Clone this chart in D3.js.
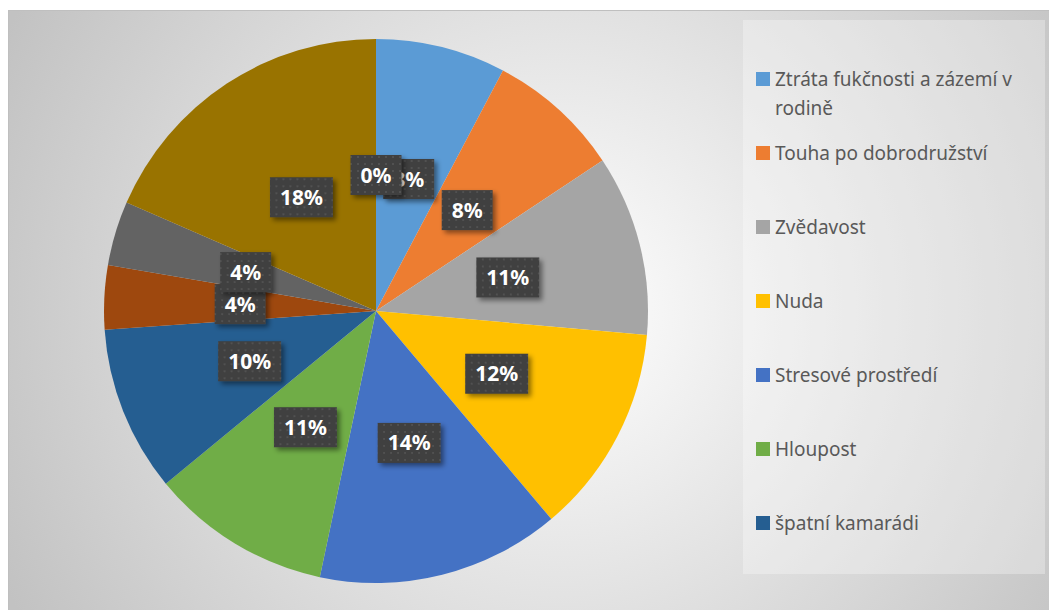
<!DOCTYPE html>
<html>
<head>
    <meta charset="utf-8">
    <script src="https://d3js.org/d3.v7.min.js"></script>
    <style>
        body { margin: 0; background: #fff; }
        .legend text {
            font-family: "Noto Sans", sans-serif;
            font-size: 19px;
            fill: #595959;
        }
        .label text {
            font-family: "Noto Sans", sans-serif;
            font-size: 21px;
            font-weight: bold;
            fill: #fff;
        }
    </style>
</head>
<body>
    <div id="chart"></div>

    <script>
        // Categories (only the first 7 fit in the legend box)
        const categories = [
            "Ztráta fukčnosti a zázemí v rodině",
            "Touha po dobrodružství",
            "Zvědavost",
            "Nuda",
            "Stresové prostředí",
            "Hloupost",
            "špatní kamarádi",
            "Kategorie 8",
            "Kategorie 9",
            "Kategorie 10",
            "Kategorie 11"
        ];
        // Shares (percent)
        const values = [7.7, 7.9, 10.7, 12.4, 14.4, 10.7, 9.8, 3.8, 3.8, 18.4, 0];
        const colors = [
            "#5B9BD5", "#ED7D31", "#A5A5A5", "#FFC000", "#4472C4", "#70AD47",
            "#255E91", "#9E480E", "#636363", "#997300", "#264478"
        ];

        const width = 1049, height = 610;
        const cx = 376, cy = 311, radius = 272;
        const legendBox = { x: 743, y: 20, w: 302, h: 554 };

        const svg = d3.select("#chart")
            .append("svg")
            .attr("width", width)
            .attr("height", height);

        const defs = svg.append("defs");

        // background gradient
        const bg = defs.append("radialGradient")
            .attr("id", "bg")
            .attr("gradientUnits", "userSpaceOnUse")
            .attr("cx", 560).attr("cy", 310).attr("r", 620);
        bg.append("stop").attr("offset", 0).attr("stop-color", "#ffffff");
        bg.append("stop").attr("offset", 1).attr("stop-color", "#c2c2c2");

        // dotted pattern for data labels
        const pat = defs.append("pattern")
            .attr("id", "dots")
            .attr("patternUnits", "userSpaceOnUse")
            .attr("width", 7).attr("height", 7);
        pat.append("rect").attr("width", 7).attr("height", 7).attr("fill", "#3f3f3f");
        pat.append("rect").attr("x", 2).attr("y", 2).attr("width", 2).attr("height", 2).attr("fill", "#515151");

        const shadow = defs.append("filter")
            .attr("id", "shadow")
            .attr("x", "-30%").attr("y", "-30%")
            .attr("width", "160%").attr("height", "160%");
        shadow.append("feDropShadow")
            .attr("dx", 3).attr("dy", 3)
            .attr("stdDeviation", 2.5)
            .attr("flood-color", "#000")
            .attr("flood-opacity", 0.45);

        // chart area
        svg.append("rect")
            .attr("x", 8.5).attr("y", 10.5)
            .attr("width", width - 8).attr("height", height - 10)
            .attr("fill", "url(#bg)")
            .attr("stroke", "#bfbfbf");

        // legend box
        svg.append("rect")
            .attr("x", legendBox.x).attr("y", legendBox.y)
            .attr("width", legendBox.w).attr("height", legendBox.h)
            .attr("fill", "#ffffff")
            .attr("opacity", 0.3);

        // pie
        const pie = d3.pie().sort(null).value(d => d.value);
        const data = categories.map((c, i) => ({ name: c, value: values[i], color: colors[i] }));
        const arcs = pie(data);
        const total = d3.sum(values);

        const arc = d3.arc().innerRadius(0).outerRadius(radius);
        const labelArc = d3.arc().innerRadius(radius * 0.5).outerRadius(radius * 0.5);

        const g = svg.append("g").attr("transform", `translate(${cx},${cy})`);

        g.selectAll("path")
            .data(arcs.filter(d => d.value > 0))
            .enter()
            .append("path")
            .attr("d", arc)
            .attr("fill", d => d.data.color);

        // data labels
        const label = g.selectAll(".label")
            .data(arcs)
            .enter()
            .append("g")
            .attr("class", "label")
            .attr("transform", d => `translate(${labelArc.centroid(d)})`);

        label.append("rect").attr("fill", "url(#dots)").attr("filter", "url(#shadow)");
        label.append("text")
            .attr("text-anchor", "middle")
            .attr("dy", "0.36em")
            .text(d => Math.round(d.value / total * 100) + "%");
        label.each(function () {
            const t = d3.select(this).select("text").node().getComputedTextLength();
            const w = t + 20, h = 40;
            d3.select(this).select("rect")
                .attr("x", -w / 2).attr("y", -h / 2)
                .attr("width", w).attr("height", h);
        });

        // legend - items that do not fit in the box are left out, like the original
        const legend = svg.append("g").attr("class", "legend");
        const maxW = 262;
        let y = 79;
        for (const d of data) {
            if (y + 12 > legendBox.y + legendBox.h) break;
            const item = legend.append("g");
            item.append("rect")
                .attr("x", 756).attr("y", y - 7)
                .attr("width", 14).attr("height", 14)
                .attr("fill", d.color);
            const text = item.append("text")
                .attr("x", 775).attr("y", y)
                .attr("dy", "0.35em");
            // simple word wrap
            const words = d.name.split(" ");
            let line = [];
            let tspan = text.append("tspan").attr("x", 775);
            words.forEach(w => {
                line.push(w);
                tspan.text(line.join(" "));
                if (tspan.node().getComputedTextLength() > maxW && line.length > 1) {
                    line.pop();
                    tspan.text(line.join(" "));
                    line = [w];
                    tspan = text.append("tspan").attr("x", 775).attr("dy", 29).text(w);
                }
            });
            y += 74;
        }
    </script>
</body>
</html>
